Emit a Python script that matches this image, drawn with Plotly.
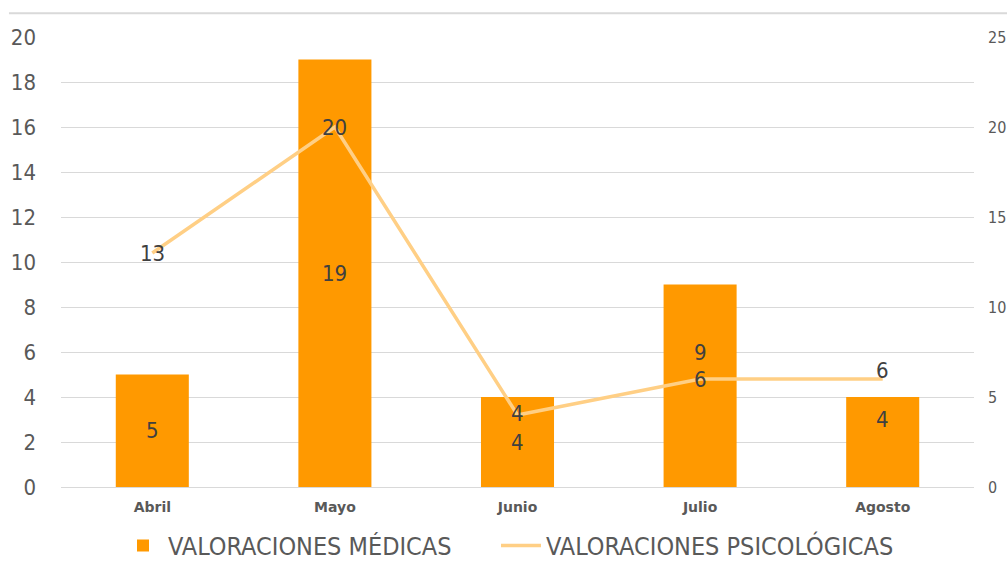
import plotly.graph_objects as go

months = ["Abril", "Mayo", "Junio", "Julio", "Agosto"]
medicas = [5, 19, 4, 9, 4]
psicologicas = [13, 20, 4, 6, 6]

# label vertical offsets (px) to mimic the reference placement
bar_label_shift = [0, 0, 0, 33, 23]
line_label_shift = [0, 0, 2, 0, 9]

COND = "DejaVu Sans Condensed, Liberation Sans Narrow, sans-serif"
GREY = "#595959"

fig = go.Figure()
fig.add_trace(go.Bar(
    x=months, y=medicas, name="VALORACIONES MÉDICAS",
    marker=dict(color="#FF9900", line=dict(width=0)), width=0.4,
    yaxis="y", legend="legend"))
fig.add_trace(go.Scatter(
    x=months, y=psicologicas, name="VALORACIONES PSICOLÓGICAS",
    mode="lines", line=dict(color="#FFCF85", width=3.5),
    yaxis="y2", legend="legend2"))

ann = []
for m, v, s in zip(months, medicas, bar_label_shift):
    ann.append(dict(x=m, y=v / 2, xref="x", yref="y", text=str(v), showarrow=False,
                    yshift=s, font=dict(family=COND, size=22, color="#404040")))
for m, v, s in zip(months, psicologicas, line_label_shift):
    ann.append(dict(x=m, y=v, xref="x", yref="y2", text=str(v), showarrow=False,
                    yshift=s, font=dict(family=COND, size=22, color="#404040")))

legend_common = dict(orientation="h", xanchor="left", xref="container",
                     y=0.029, yanchor="middle", yref="container",
                     font=dict(family=COND, size=25, color=GREY), itemwidth=40,
                     bgcolor="rgba(0,0,0,0)")

fig.update_layout(
    width=1007, height=562,
    margin=dict(l=61, r=33, t=37, b=75, autoexpand=False),
    paper_bgcolor="white", plot_bgcolor="white",
    bargap=0.6,
    showlegend=True,
    legend=dict(x=118 / 1007, **legend_common),
    legend2=dict(x=496 / 1007, **legend_common),
    xaxis=dict(tickfont=dict(family="DejaVu Sans", size=14, color=GREY, weight="bold"),
               showgrid=False, showline=False, ticks="", ticklabelstandoff=10,
               automargin=False),
    yaxis=dict(range=[0, 20], dtick=2, showgrid=True, gridcolor="#D9D9D9", gridwidth=1,
               zeroline=True, zerolinecolor="#D9D9D9", zerolinewidth=1,
               tickfont=dict(family=COND, size=22, color=GREY), ticklabelstandoff=24,
               automargin=False),
    yaxis2=dict(range=[0, 25], dtick=5, overlaying="y", side="right", showgrid=False,
                zeroline=False, automargin=False,
                tickfont=dict(family=COND, size=16, color=GREY), ticklabelstandoff=13),
    annotations=ann,
    shapes=[dict(type="line", xref="paper", yref="paper", x0=-0.057, x1=1.04,
                 y0=1.053, y1=1.053, line=dict(color="#D9D9D9", width=2))],
)

fig.write_html("out.html", config={"displayModeBar": False},
               post_script="document.body.style.margin='0';")
